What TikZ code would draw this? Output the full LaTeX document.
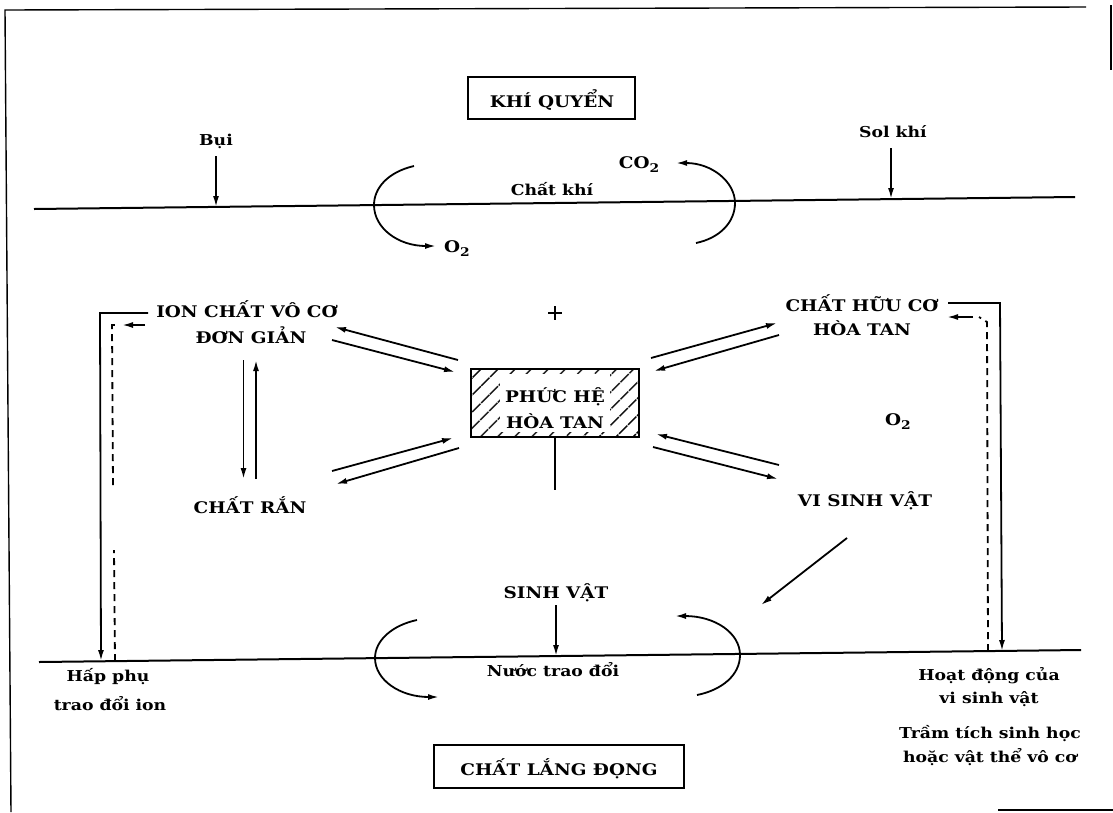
\documentclass[tikz,border=0pt]{standalone}
\usepackage{fontspec}
\setmainfont{DejaVu Serif}[FakeStretch=1.15]
\usetikzlibrary{arrows.meta,patterns.meta}
\newcommand{\subtwo}{\raisebox{-4pt}{\fontsize{12}{12}\selectfont 2}}
\tikzset{
  capl/.style={font=\bfseries\fontsize{16}{18}\selectfont, inner sep=0pt, anchor=base},
  lowl/.style={font=\bfseries\fontsize{15}{17}\selectfont, inner sep=0pt, anchor=base},
  lnl/.style={line width=2pt},
  arrl/.style={line width=1.8pt, -{Latex[length=11pt,width=6pt]}},
  darrl/.style={line width=1.8pt, dash pattern=on 7pt off 5pt},
  framel/.style={line width=1.4pt},
  labboxl/.style={draw, line width=1.8pt, inner sep=0pt},
}
\begin{document}
\begin{tikzpicture}[x=1pt,y=-1pt]
\useasboundingbox (0,0) rectangle (1113,812);
% frame
\coordinate (f1) at (11,812); \coordinate (f2) at (5,10); \coordinate (f3) at (1086,7);
\coordinate (f4) at (1111,5); \coordinate (f5) at (1111,70);
\coordinate (f6) at (998,810); \coordinate (f7) at (1113,810);
\draw[framel] (f1) -- (f2) -- (f3);
\draw[framel] (f4) -- (f5);
\draw[framel] (f6) -- (f7);

% boxes with titles
\node[labboxl, minimum width=167pt, minimum height=42pt] (kqbox) at (551.5,98) {};
\node[capl] (kq) at (552,107) {KHÍ QUYỂN};
\node[labboxl, minimum width=250pt, minimum height=43pt] (cldbox) at (559,766.5) {};
\node[capl] (cld) at (559,775) {CHẤT LẮNG ĐỌNG};

% horizon lines
\coordinate (a1) at (34,209); \coordinate (a2) at (1075,197);
\draw[lnl] (a1) -- (a2);
\coordinate (b1) at (39,662); \coordinate (b2) at (1081,650);
\draw[lnl] (b1) -- (b2);

% top labels
\node[lowl] (bui) at (216,145) {Bụi};
\coordinate (buiend) at (216,207);
\draw[arrl] (216,156) -- (buiend);
\node[lowl] (sol) at (893,137) {Sol khí};
\coordinate (solend) at (891,199);
\draw[arrl] (891,148) -- (solend);
\node[lowl] (ck) at (552,195) {Chất khí};
\node[capl] (co2) at (639,168) {CO\subtwo};
\node[capl] (o2a) at (457,252) {O\subtwo};

% top arcs
\coordinate (la1) at (414,166); \coordinate (la2) at (436,246);
\draw[arrl] (la1) .. controls (388,172) and (374,188) .. (374,205)
  .. controls (374,228) and (398,246) .. (la2);
\coordinate (ra1) at (696,243); \coordinate (ra2) at (676,163);
\draw[arrl] (ra1) .. controls (720,238) and (735,222) .. (735,203)
  .. controls (735,182) and (712,163) .. (ra2);

% middle labels
\node[capl] (ion1) at (247,317) {ION CHẤT VÔ CƠ};
\node[capl] (ion2) at (251,343) {ĐƠN GIẢN};
\node[capl] (ran) at (250,513) {CHẤT RẮN};
\node[capl] (huu1) at (862,311) {CHẤT HỮU CƠ};
\node[capl] (huu2) at (862,335) {HÒA TAN};
\node[capl] (vsv) at (865,506) {VI SINH VẬT};
\node[capl] (o2b) at (898,425) {O\subtwo};
\node[inner sep=0pt] (plus) at (555,313) {};
\draw[line width=1.5pt] (548,313) -- (562,313) (555,306) -- (555,320);

% hatched complex box
\node[minimum width=168pt, minimum height=68pt, inner sep=0pt] (phuc) at (555,403) {};
\fill[pattern={Lines[angle=45,distance=13pt,line width=1.6pt]}] (phuc.north west) rectangle (phuc.south east);
\fill[white] (500,374) rectangle (610,432);
\draw[line width=2.2pt] (phuc.north west) rectangle (phuc.south east);
\node[capl] (ph1) at (555,402) {PHỨC HỆ};
\node[capl] (ph2) at (555,428) {HÒA TAN};
\coordinate (stem) at (555,490);
\draw[lnl] (phuc.south) -- (stem);

% ION <-> PHUC
\draw[arrl] (458,360) -- (335,327);
\draw[arrl] (332,340) -- (455,372);
% RAN <-> PHUC
\draw[arrl] (332,471) -- (453,438);
\draw[arrl] (459,448) -- (336,484);
% PHUC <-> HUU CO
\draw[arrl] (651,358) -- (777,323);
\draw[arrl] (779,335) -- (654,371);
% PHUC <-> VSV
\draw[arrl] (779,465) -- (656,434);
\draw[arrl] (653,447) -- (778,479);
% ION <-> RAN
\draw[arrl] (243.5,360) -- (243.5,479);
\draw[arrl] (256,479) -- (256,360);
% VSV diagonal
\draw[arrl] (847,538) -- (761,605);

% left loop
\coordinate (lt1) at (148,313); \coordinate (lt2) at (100,313); \coordinate (lt3) at (101,661);
\draw[arrl] (lt1) -- (lt2) -- (lt3);
\coordinate (ld1) at (115,661); \coordinate (ld2) at (114,550);
\coordinate (ld3) at (113,485); \coordinate (ld4) at (112,325); \coordinate (ld5) at (117,325);
\draw[darrl] (ld1) -- (ld2);
\draw[darrl] (ld3) -- (ld4) -- (ld5);
\coordinate (la3) at (145,325); \coordinate (la4) at (122,325);
\draw[arrl] (la3) -- (la4);

% right loop
\coordinate (rt1) at (948,303); \coordinate (rt2) at (1000,303); \coordinate (rt3) at (1002,651);
\draw[arrl] (rt1) -- (rt2) -- (rt3);
\coordinate (rd1) at (988,651); \coordinate (rd2) at (987,322); \coordinate (rd3) at (979,317);
\draw[darrl] (rd1) -- (rd2) -- (rd3);
\coordinate (rd4) at (973,317); \coordinate (rd5) at (947,317);
\draw[arrl] (rd4) -- (rd5);

% bottom labels
\node[capl] (sv) at (556,598) {SINH VẬT};
\coordinate (svend) at (556,656);
\draw[arrl] (556,605) -- (svend);
\node[lowl] (nuoc) at (553,676) {Nước trao đổi};
\node[lowl] (hp1) at (108,681) {Hấp phụ};
\node[lowl] (hp2) at (110,710) {trao đổi ion};
\node[lowl] (hd1) at (989,680) {Hoạt động của};
\node[lowl] (hd2) at (989,703) {vi sinh vật};
\node[lowl] (tt1) at (990,738) {Trầm tích sinh học};
\node[lowl] (tt2) at (990,762) {hoặc vật thể vô cơ};

% bottom arcs
\coordinate (lb1) at (417,620); \coordinate (lb2) at (439,697);
\draw[arrl] (lb1) .. controls (393,625) and (375,640) .. (375,658)
  .. controls (375,680) and (400,697) .. (lb2);
\coordinate (rb1) at (697,695); \coordinate (rb2) at (675,616);
\draw[arrl] (rb1) .. controls (722,690) and (740,675) .. (740,655)
  .. controls (740,633) and (715,616) .. (rb2);
\end{tikzpicture}
\end{document}
